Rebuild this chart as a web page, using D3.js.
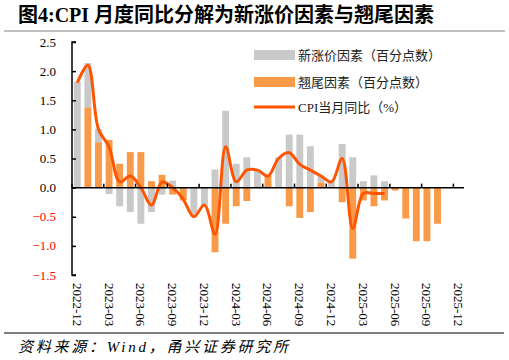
<!DOCTYPE html>
<html>
<head>
<meta charset="UTF-8"/>
<script src="https://d3js.org/d3.v7.min.js"></script>
<style>
body { margin: 0; background: #fff; }
svg { display: block; }
</style>
</head>
<body>
<div id="chart"></div>
<script>
// months 2022-12 .. 2025-12
var months = [];
for (var i = 0; i < 37; i++) {
    var m = 11 + i, y = 2022 + Math.floor(m / 12);
    months.push(y + "-" + String(m % 12 + 1).padStart(2, "0"));
}
var tickLabels = months.filter(function(d, i) { return i % 3 == 0; });

// 新涨价因素 (gray)
var newPrice = [1.82, 0.76, 0.23, -0.11, -0.32, -0.42, -0.62, -0.42, -0.12, 0.12,
    0, -0.5, -0.32, 0.31, 1.32, 0.41, 0.52, 0.31, 0, 0.52,
    0.91, 0.91, 0.71, 0.12, 0.11, 0.75, 0.52, 0.11, 0.21, 0.11,
    0, 0, 0, 0, 0, 0, 0];
// 翘尾因素 (orange)
var tailFactor = [0, 1.38, 0.78, 0.82, 0.41, 0.61, 0.61, 0.11, 0.22, -0.12,
    -0.22, 0, 0, -1.11, -0.62, -0.32, -0.23, 0, 0.21, 0,
    -0.32, -0.52, -0.42, 0.09, 0, -0.25, -1.22, -0.22, -0.32, -0.22,
    -0.05, -0.53, -0.92, -0.92, -0.62, 0, 0];
// CPI当月同比
var cpi = [1.8, 2.1, 1.0, 0.7, 0.1, 0.2, 0.0, -0.3, 0.1, 0.0,
    -0.2, -0.5, -0.3, -0.8, 0.7, 0.1, 0.3, 0.3, 0.2, 0.5,
    0.6, 0.4, 0.3, 0.2, 0.1, 0.5, -0.7, -0.1, -0.1, -0.1];
var yTicks = [-1.5, -1.0, -0.5, 0, 0.5, 1.0, 1.5, 2.0, 2.5];

var W = 509, H = 360;
var serif = "'Liberation Serif', 'Noto Sans CJK SC', serif";
var cjk = "'Liberation Serif', 'Noto Sans CJK SC', sans-serif";

var svg = d3.select("#chart").append("svg")
    .attr("width", W)
    .attr("height", H);

// title
svg.append("text")
    .attr("x", 18).attr("y", 22)
    .attr("font-family", cjk)
    .attr("font-weight", "bold")
    .attr("font-size", 20)
    .attr("fill", "#000")
    .text("图4:CPI 月度同比分解为新涨价因素与翘尾因素");
svg.append("line")
    .attr("x1", 4).attr("x2", 505).attr("y1", 31).attr("y2", 31)
    .attr("stroke", "#aaa").attr("stroke-width", 1.5);

var x = d3.scaleBand().domain(months).range([72, 464])
    .paddingInner(0.35).paddingOuter(0.175);
var y = d3.scaleLinear().domain([-1.5, 2.5]).range([275, 42]);

// stacked bars
var rows = months.map(function(d, i) {
    return { month: d, tail: tailFactor[i], fresh: newPrice[i] };
});
var series = d3.stack().keys(["tail", "fresh"])
    .offset(d3.stackOffsetDiverging)(rows);
var colors = { tail: "#F89A48", fresh: "#C9C9C9" };

svg.append("g").selectAll("g")
    .data(series).join("g")
    .attr("fill", function(s) { return colors[s.key]; })
    .selectAll("rect")
    .data(function(s) { return s; }).join("rect")
    .attr("x", function(d) { return x(d.data.month); })
    .attr("width", x.bandwidth())
    .attr("y", function(d) { return y(Math.max(d[0], d[1])); })
    .attr("height", function(d) { return Math.abs(y(d[0]) - y(d[1])); });

// CPI line
var line = d3.line()
    .x(function(d, i) { return x(months[i]) + x.bandwidth() / 2; })
    .y(function(d) { return y(d); })
    .curve(d3.curveCatmullRom.alpha(0.5));
svg.append("path")
    .datum(cpi)
    .attr("d", line)
    .attr("fill", "none")
    .attr("stroke", "#FF5500")
    .attr("stroke-width", 3)
    .attr("stroke-linejoin", "round");

// y axis
var yAxis = d3.axisRight(y).tickValues(yTicks).tickSize(4).tickFormat("");
var gy = svg.append("g").attr("transform", "translate(72,0)").call(yAxis);
gy.select(".domain").attr("stroke", "#000").attr("stroke-width", 1.5)
    .attr("d", "M4," + y(2.5) + "H0V" + y(-1.5) + "H4");
gy.selectAll(".tick line").attr("stroke", "#000").attr("stroke-width", 1.5);

svg.append("g").selectAll("text")
    .data(yTicks).join("text")
    .attr("x", 56)
    .attr("y", function(d) { return y(d); })
    .attr("dy", "0.35em")
    .attr("text-anchor", "end")
    .attr("font-family", serif)
    .attr("font-size", 13)
    .attr("fill", function(d) { return d < 0 ? "#FF0000" : "#000"; })
    .text(function(d) { return d3.format(".1f")(d); });

// x axis at zero
var step = x.step();
var edge = function(d) { return x(d) - (step - x.bandwidth()) / 2; };
svg.append("line")
    .attr("x1", 72).attr("x2", 464)
    .attr("y1", y(0)).attr("y2", y(0))
    .attr("stroke", "#000").attr("stroke-width", 1.5);
svg.append("g").selectAll("line")
    .data(tickLabels).join("line")
    .attr("x1", edge).attr("x2", edge)
    .attr("y1", y(0)).attr("y2", y(0) - 4)
    .attr("stroke", "#000").attr("stroke-width", 1.5);

svg.append("g").selectAll("text")
    .data(tickLabels).join("text")
    .attr("transform", function(d) {
        return "translate(" + (x(d) + x.bandwidth() / 2) + ",283) rotate(90)";
    })
    .attr("dy", "0.35em")
    .attr("font-family", serif)
    .attr("font-size", 13)
    .attr("fill", "#000")
    .text(function(d) { return d; });

// legend
var legend = svg.append("g").attr("font-family", cjk).attr("font-size", 13).attr("fill", "#222");
legend.append("rect").attr("x", 254).attr("y", 50).attr("width", 41).attr("height", 10).attr("fill", colors.fresh);
legend.append("text").attr("x", 298).attr("y", 55).attr("dy", "0.35em").text("新涨价因素（百分点数）");
legend.append("rect").attr("x", 254).attr("y", 77).attr("width", 41).attr("height", 10).attr("fill", colors.tail);
legend.append("text").attr("x", 298).attr("y", 82).attr("dy", "0.35em").text("翘尾因素（百分点数）");
legend.append("line").attr("x1", 254).attr("x2", 295).attr("y1", 107).attr("y2", 107)
    .attr("stroke", "#FF5500").attr("stroke-width", 3);
legend.append("text").attr("x", 298).attr("y", 107).attr("dy", "0.35em").text("CPI当月同比（%）");

// source
svg.append("line")
    .attr("x1", 4).attr("x2", 504).attr("y1", 333).attr("y2", 333)
    .attr("stroke", "#555").attr("stroke-width", 1.5);
svg.append("text")
    .attr("x", 18).attr("y", 352)
    .attr("font-family", cjk)
    .attr("font-style", "italic")
    .attr("font-size", 15)
    .attr("textLength", 270)
    .attr("fill", "#000")
    .text("资料来源：Wind，甬兴证券研究所");
</script>
</body>
</html>
